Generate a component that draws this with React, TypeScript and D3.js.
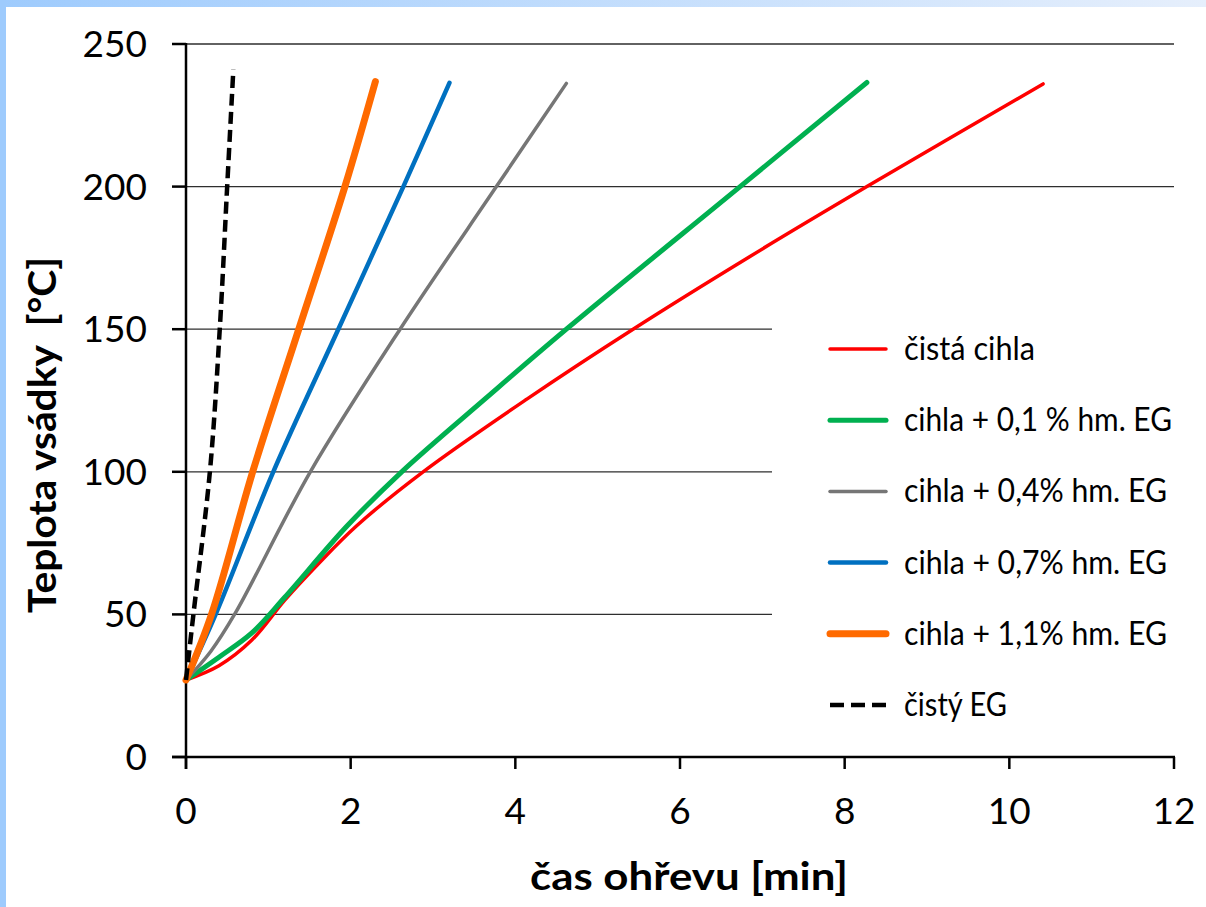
import React from "react";
import * as d3 from "d3";

type Pt = [number, number];

const xTicks = [0, 2, 4, 6, 8, 10, 12];
const yTicks = [0, 50, 100, 150, 200, 250];

const seriesNames = [
  "čistá cihla",
  "cihla + 0,1 % hm. EG",
  "cihla + 0,4% hm. EG",
  "cihla + 0,7% hm. EG",
  "cihla + 1,1% hm. EG",
  "čistý EG",
];

const cistaCihla: Pt[] = [
  [0, 27], [0.4, 32], [0.8, 41], [1.2, 55], [1.6, 67.5], [2.07, 81],
  [2.88, 100], [4.14, 125.5], [5.43, 150], [6.85, 175.5], [8.27, 200], [10.41, 236],
];
const cihla01: Pt[] = [
  [0, 27], [0.4, 35], [0.8, 43.5], [1.2, 56], [1.95, 80.8], [2.62, 100],
  [3.65, 126], [4.62, 150], [6.73, 200], [8.27, 236.5],
];
const cihla04: Pt[] = [
  [0, 27], [0.3, 37], [0.6, 50.5], [1.51, 100], [2.6, 150], [3.77, 200], [4.62, 236.2],
];
const cihla07: Pt[] = [
  [0, 27], [0.36, 50], [1.06, 100], [1.85, 150], [2.64, 200], [3.2, 236.4],
];
const cihla11: Pt[] = [
  [0, 27], [0.31, 50], [0.81, 100], [1.37, 150], [1.93, 200], [2.3, 236.8],
];
const cistyEG: Pt[] = [
  [0, 27], [0.09, 50], [0.29, 100], [0.41, 150], [0.5, 200], [0.575, 241],
];

const seriesData = [cistaCihla, cihla01, cihla04, cihla07, cihla11, cistyEG];
const seriesColors = ["#ff0000", "#00b050", "#767676", "#0070c0", "#ff6a00", "#000000"];
const seriesWidths = [3.5, 5, 3.5, 4.5, 7, 4.5];
const seriesDash = [null, null, null, null, null, "12,6"];
const legendTextLen = [131, 268, 263, 263, 263, 103];

export default function App() {
  const W = 1206, H = 907;
  const x = d3.scaleLinear().domain([0, 12]).range([186, 1174]);
  const y = d3.scaleLinear().domain([0, 250]).range([757, 44]);
  const line = d3
    .line<Pt>()
    .x((d) => x(d[0]))
    .y((d) => y(d[1]))
    .curve(d3.curveCatmullRom.alpha(0.5));

  const font = "Lato, 'Open Sans', sans-serif";
  const legendY0 = 349;
  const legendStep = 71.2;

  return (
    <svg
      width={W}
      height={H}
      style={{ position: "absolute", left: 0, top: 0, background: "#fff" }}
      fontFamily={font}
    >
      <defs>
        <linearGradient id="topband" x1="0" x2="1" y1="0" y2="0">
          <stop offset="0" stopColor="#9ecbfd" />
          <stop offset="1" stopColor="#e6effc" />
        </linearGradient>
      </defs>
      <rect x={0} y={0} width={W} height={H} fill="#fff" />
      <rect x={0} y={0} width={W} height={7} fill="url(#topband)" />
      <rect x={0} y={0} width={6} height={H} fill="#9ecbfd" />

      {/* gridlines */}
      {yTicks.filter((t) => t > 0).map((t) => (
        <line key={"g" + t} x1={x(0)} x2={x(12)} y1={y(t)} y2={y(t)} stroke="#2e2e2e" strokeWidth={1.3} />
      ))}

      {/* legend background */}
      <rect x={772} y={300} width={420} height={440} fill="#fff" />

      {/* axes */}
      <line x1={x(0)} x2={x(0)} y1={y(250) - 1} y2={y(0) + 12} stroke="#000" strokeWidth={2.5} />
      <line x1={172} x2={x(12) + 1} y1={y(0)} y2={y(0)} stroke="#000" strokeWidth={2.5} />
      {yTicks.map((t) => (
        <line key={"yt" + t} x1={172} x2={x(0)} y1={y(t)} y2={y(t)} stroke="#000" strokeWidth={2.5} />
      ))}
      {xTicks.map((t) => (
        <line key={"xt" + t} x1={x(t)} x2={x(t)} y1={y(0)} y2={y(0) + 12} stroke="#000" strokeWidth={2.5} />
      ))}

      {/* tick labels */}
      {yTicks.map((t) => (
        <text key={"yl" + t} x={147} y={y(t) + 13} textAnchor="end" fontSize={37} fill="#000">
          {t}
        </text>
      ))}
      {xTicks.map((t) => (
        <text key={"xl" + t} x={x(t)} y={824} textAnchor="middle" fontSize={37} fill="#000">
          {t}
        </text>
      ))}

      {/* axis titles */}
      <text x={530} y={890} fontSize={39} fontWeight="bold" fill="#000" textLength={318} lengthAdjust="spacingAndGlyphs">
        čas ohřevu [min]
      </text>
      <text
        transform="translate(56,613) rotate(-90)"
        x={0}
        y={0}
        fontSize={39}
        fontWeight="bold"
        fill="#000"
        textLength={356}
        lengthAdjust="spacingAndGlyphs"
        style={{ whiteSpace: "pre" }}
      >
        {"Teplota vsádky  [°C]"}
      </text>

      {/* series */}
      {seriesData.map((d, i) => (
        <path
          key={"s" + i}
          d={line(d) || ""}
          fill="none"
          stroke={seriesColors[i]}
          strokeWidth={seriesWidths[i]}
          strokeDasharray={seriesDash[i] || undefined}
          strokeLinecap={seriesDash[i] ? "butt" : "round"}
          strokeLinejoin="round"
        />
      ))}

      {/* legend */}
      {seriesNames.map((n, i) => {
        const cy = legendY0 + i * legendStep;
        return (
          <g key={"lg" + i}>
            <line
              x1={830}
              x2={886}
              y1={cy}
              y2={cy}
              stroke={seriesColors[i]}
              strokeWidth={seriesWidths[i]}
              strokeDasharray={seriesDash[i] ? "14,7" : undefined}
              strokeLinecap={seriesDash[i] ? "butt" : "round"}
            />
            <text
              x={904}
              y={cy + 11}
              fontSize={33}
              fill="#000"
              textLength={legendTextLen[i]}
              lengthAdjust="spacingAndGlyphs"
            >
              {n}
            </text>
          </g>
        );
      })}
    </svg>
  );
}
